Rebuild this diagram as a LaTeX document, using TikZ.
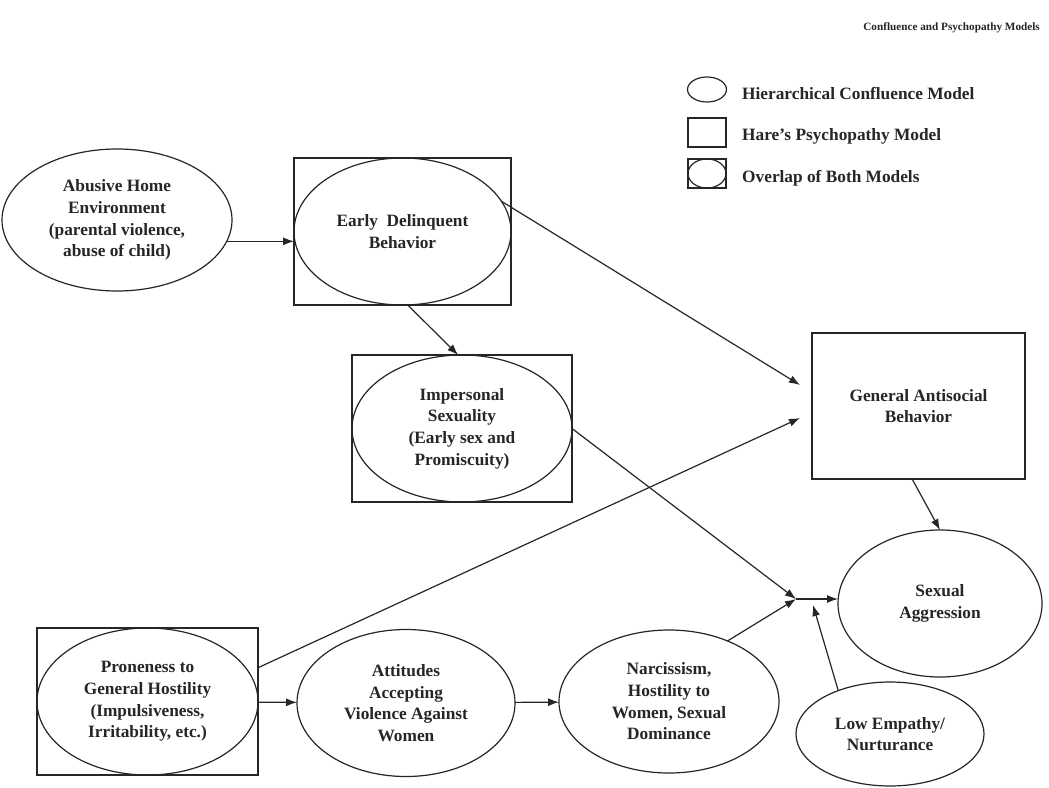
\documentclass[tikz,border=0pt]{standalone}
\usepackage{fontspec}
\setmainfont{Liberation Serif}
\usetikzlibrary{shapes.geometric,arrows.meta,calc}
\definecolor{ink}{gray}{0.15}
\newcommand{\labfont}{\fontsize{17.3}{21.7}\selectfont\bfseries}
\newcommand{\ttlfont}{\fontsize{11.2}{14}\selectfont\bfseries}
\begin{document}
\begin{tikzpicture}[x=1pt,y=-1pt,
  ell/.style={ellipse,draw=ink,line width=1.2pt,inner sep=0pt,outer sep=0pt,align=center,font=\labfont,text=ink},
  box/.style={rectangle,draw=ink,line width=1.2pt,inner sep=0pt,outer sep=0pt,align=center,font=\labfont,text=ink},
  arr/.style={draw=ink,line width=1.2pt,-{Latex[length=11pt,width=8pt]}},
  legtxt/.style={anchor=west,inner sep=0pt,font=\labfont,text=ink}]
\useasboundingbox (0,0) rectangle (1049,787);
\fill[white] (0,0) rectangle (1049,787);

% title
\node[anchor=east,inner sep=0pt,font=\ttlfont,text=ink] (title) at (1040,28) {Confluence and Psychopathy Models};

% legend
\node[ell,minimum width=39pt,minimum height=25pt] (lgE) at (707,89.5) {};
\node[box,minimum width=38pt,minimum height=29pt] (lgB) at (707,132.5) {};
\node[box,minimum width=38pt,minimum height=29pt] (lgOB) at (707,173.5) {};
\node[ell,minimum width=38pt,minimum height=29pt] (lgOE) at (707,173.5) {};
\node[legtxt] (lgEt) at (742,94) {Hierarchical Confluence Model};
\node[legtxt] (lgBt) at (742,136) {Hare’s Psychopathy Model};
\node[legtxt] (lgOt) at (742,178) {Overlap of Both Models};

% main nodes
\node[ell,minimum width=230pt,minimum height=142pt] (abuse) at (117,220)
  {Abusive Home\\Environment\\(parental violence,\\abuse of child)};
\node[box,minimum width=217pt,minimum height=147pt] (earlyB) at (402.5,231.5) {};
\node[ell,minimum width=217pt,minimum height=147pt] (early) at (402.5,231.5)
  {Early\ \ Delinquent\\Behavior};
\node[box,minimum width=220pt,minimum height=147pt] (impB) at (462,428.5) {};
\node[ell,minimum width=220pt,minimum height=147pt] (imp) at (462,428.5)
  {Impersonal\\Sexuality\\(Early sex and\\Promiscuity)};
\node[box,minimum width=213pt,minimum height=146pt] (genab) at (918.5,406)
  {General Antisocial\\Behavior};
\node[ell,minimum width=204pt,minimum height=147pt] (sexag) at (940,603.5)
  {Sexual\\Aggression};
\node[box,minimum width=221pt,minimum height=147pt] (proneB) at (147.5,701.5) {};
\node[ell,minimum width=221pt,minimum height=147pt] (prone) at (147.5,701.5)
  {Proneness to\\General Hostility\\(Impulsiveness,\\Irritability, etc.)};
\node[ell,minimum width=218pt,minimum height=147pt] (att) at (406,703)
  {Attitudes\\Accepting\\Violence Against\\Women};
\node[ell,minimum width=220pt,minimum height=143pt] (narc) at (669,701.5)
  {Narcissism,\\Hostility to\\Women, Sexual\\Dominance};
\node[ell,minimum width=188pt,minimum height=104pt] (low) at (890,734)
  {Low Empathy/\\Nurturance};

% junction points
\coordinate (J) at (796,599);
\coordinate (JL) at (813,605);

% connectors
\draw[arr] (abuse.-11) -- (abuse.-11 -| early.west);
\draw[arr] (early.-86) -- (imp.93);
\draw[arr] (early.17) -- ($(genab.west)+(-12,-21)$);
\draw[arr] (proneB.17) -- ($(genab.west)+(-12,12)$);
\draw[arr] (genab.-95) -- (sexag.north);
\draw[arr] (imp.east) -- (J);
\draw[arr] (narc.46) -- (J);
\draw[arr] (J) -- (J -| sexag.west);
\draw[arr] (low.140) -- (JL);
\draw[arr] (prone) -- (att);
\draw[arr] (att) -- (narc);
\end{tikzpicture}
\end{document}
